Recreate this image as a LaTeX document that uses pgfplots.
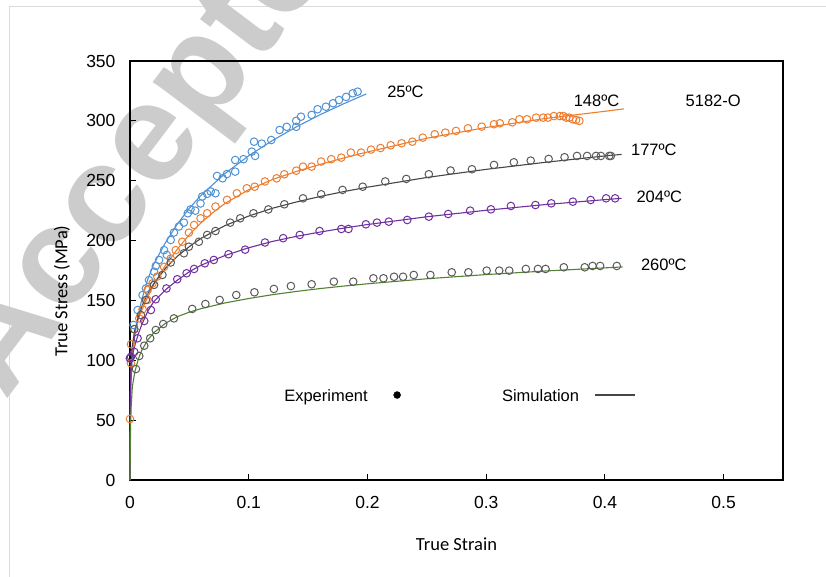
\documentclass[border=0pt]{standalone}
\usepackage{pgfplots}
\pgfplotsset{compat=1.18}
\usepackage{fontspec}
\setmainfont{Liberation Sans}
\newfontfamily\carlito{Carlito}

\definecolor{cblue}{RGB}{79,145,210}
\definecolor{corange}{RGB}{237,125,49}
\definecolor{cgray}{RGB}{90,90,90}
\definecolor{cdark}{RGB}{70,70,70}
\definecolor{cpurple}{RGB}{112,48,160}
\definecolor{cgreen}{RGB}{84,130,53}

\newcommand{\lbl}{\fontsize{16.5}{19}\selectfont}
\newcommand{\tck}{\fontsize{17.5}{20}\selectfont}

\begin{document}
\begin{tikzpicture}
\useasboundingbox (-130pt,-96pt) rectangle (696pt,480pt);
\clip (-130pt,-96pt) rectangle (696pt,480pt);
% page frame and watermark
\draw[black!14, line width=1pt] (-120pt,-100pt) -- (-120pt,473pt) -- (700pt,473pt);
\node[rotate=53, text=black!20, font=\fontsize{140}{140}\selectfont\bfseries]
  at (36pt,352pt) {Accepted};

\begin{axis}[
    at={(0,0)}, anchor=south west,
    scale only axis, width=653pt, height=419pt,
    xmin=0, xmax=0.55, ymin=0, ymax=350,
    xtick={0,0.1,0.2,0.3,0.4,0.5},
    ytick={0,50,100,150,200,250,300,350},
    xtick pos=bottom, ytick pos=left,
    tick align=inside, major tick length=6pt,
    tick style={black, line width=1pt},
    axis line style={black, line width=1.6pt},
    tick label style={font=\tck},
    /pgf/number format/assume math mode=true,
    xticklabel style={yshift=-13pt},
    yticklabel style={xshift=-11pt},
    clip=false,
    mark size=3.8pt,
  ]

% experiment, 25 C
\addplot[only marks, mark=o, cblue, line width=1pt] coordinates {
(0.003,129.5) (0.0064,142) (0.0106,154.5) (0.0134,160) (0.016,167)
(0.0203,174) (0.0217,178.8) (0.0245,183.8) (0.0287,192) (0.031,188)
(0.0343,200.5) (0.037,206.7) (0.0412,211.7) (0.0454,215) (0.0487,222.8)
(0.051,226) (0.055,225) (0.0594,231) (0.0608,236.8) (0.065,239)
(0.068,241) (0.072,239.5) (0.0733,254) (0.078,252) (0.0817,255.6)
(0.0886,257.6) (0.0886,267.3) (0.0956,268) (0.1026,274.3) (0.1045,282.6)
(0.1054,270.7) (0.111,281) (0.119,284) (0.126,292.4) (0.132,295)
(0.140,295) (0.140,300) (0.144,303.5) (0.153,305) (0.158,309.7)
(0.165,311.8) (0.171,314.7) (0.176,317.4) (0.182,320) (0.1876,323)
(0.1917,324.4)
};
% experiment, 148 C
\addplot[only marks, mark=o, corange, line width=1pt] coordinates {
(0,51) (0.0008,97.5) (0.0008,113.4) (0.0036,126) (0.0078,135)
(0.0106,142.6) (0.0148,150.4) (0.0148,158.7) (0.019,164.3) (0.023,170)
(0.0287,178) (0.0343,185) (0.0385,192) (0.044,199) (0.0496,206.6)
(0.054,213) (0.0594,218.6) (0.065,222.8) (0.072,228.4) (0.0817,234)
(0.09,239.5) (0.0984,243.7) (0.105,245) (0.1137,249.4) (0.1235,252)
(0.130,255.4) (0.140,258.4) (0.1457,261.8) (0.153,261.8) (0.161,266)
(0.1695,268) (0.178,269.3) (0.186,273.5) (0.1946,273.5) (0.203,276)
(0.211,277.3) (0.2196,279.6) (0.2288,281.3) (0.2378,282.6) (0.2466,286)
(0.2567,288.8) (0.2656,290.2) (0.2746,291.6) (0.2846,293.8) (0.2962,295.2)
(0.3066,297.2) (0.3115,298) (0.322,298.8) (0.328,301.3) (0.3344,301.3)
(0.342,302.7) (0.348,302.7) (0.352,302.7) (0.357,304) (0.362,304)
(0.365,304) (0.3674,302.7) (0.370,302.7) (0.373,301.3) (0.3757,300.7)
(0.3785,300)
};
% experiment, 177 C
\addplot[only marks, mark=o, cgray, line width=1pt] coordinates {
(0,101.6) (0.0036,126) (0.0092,137.8) (0.0134,150.4) (0.0203,163)
(0.0273,171.3) (0.0343,181.7) (0.0454,189.4) (0.0496,194.9) (0.058,199)
(0.065,204.7) (0.072,208) (0.0844,215) (0.0928,218.6) (0.104,222.8)
(0.1165,226) (0.130,230.3) (0.1457,235.3) (0.161,238.7) (0.179,242.3)
(0.196,245) (0.215,249.4) (0.2327,251.5) (0.2517,255.4) (0.27,258.5)
(0.288,259.6) (0.3066,263.2) (0.3233,265.4) (0.3375,266.8) (0.3526,268.2)
(0.366,269.6) (0.3765,270.7) (0.385,270.7) (0.3925,270.7) (0.3966,270.7)
(0.4036,270.7) (0.405,270.7)
};
% experiment, 204 C
\addplot[only marks, mark=o, cpurple, line width=1pt] coordinates {
(0,101.6) (0.0008,103) (0.0036,107) (0.0064,118.4) (0.012,132.8)
(0.0176,142) (0.0217,151) (0.0307,160) (0.0398,167.7) (0.0477,172.7)
(0.054,176.3) (0.063,181) (0.0706,183.8) (0.083,188.6) (0.097,192.4)
(0.1137,198.4) (0.129,202) (0.143,204.7) (0.1597,208) (0.178,209.7)
(0.184,209.7) (0.1987,213.6) (0.208,215) (0.218,215.8) (0.2335,217.2)
(0.2517,220) (0.268,222.2) (0.2865,225) (0.304,226.1) (0.3208,228.9)
(0.3415,229.7) (0.3548,231.1) (0.373,232.5) (0.388,233.9) (0.401,235.3)
(0.4086,235.3)
};
% experiment, 260 C
\addplot[only marks, mark=o, cgray, line width=1pt] coordinates {
(0.005,92.7) (0.0078,103.6) (0.012,112.2) (0.017,118.4) (0.0217,125.3)
(0.028,130.3) (0.037,135) (0.0524,142.9) (0.0635,147) (0.0755,150.4)
(0.0895,154.5) (0.1048,156.8) (0.1212,159.6) (0.1355,162) (0.153,163.5)
(0.1717,165.7) (0.188,165.7) (0.205,168.5) (0.2135,168.5) (0.2224,169.8)
(0.23,169.8) (0.239,171.3) (0.253,171.3) (0.271,173.5) (0.285,173.5)
(0.3004,174.9) (0.311,174.9) (0.3194,174.9) (0.3334,176.3) (0.3436,176.3)
(0.35,176.3) (0.3654,177.7) (0.383,177.7) (0.3896,178.8) (0.396,178.8)
(0.41,178.8)
};

% simulation lines
\addplot[cblue, line width=1.1pt] coordinates {
(0,0) (0.0005,70) (0.001,85) (0.002,101) (0.004,120) (0.007,138)
(0.01,151) (0.015,167.6) (0.02,180.3) (0.03,198.5) (0.04,214) (0.05,227)
(0.06,238) (0.08,256) (0.1,270.8) (0.12,283.6) (0.14,294.9) (0.16,305.1)
(0.18,314.3) (0.199,322.5)
};
\addplot[corange, line width=1.1pt] coordinates {
(0,0) (0.0005,80) (0.001,96) (0.002,112) (0.004,125) (0.007,134.5)
(0.01,142) (0.015,153) (0.02,163.5) (0.03,179.5) (0.04,193) (0.05,205)
(0.06,215) (0.07,223.5) (0.08,231) (0.1,242.5) (0.12,251) (0.14,257.7)
(0.16,263.6) (0.18,269) (0.2,274) (0.25,285.5) (0.3,294.5) (0.35,302)
(0.4,308) (0.416,310)
};
\addplot[cdark, line width=1.1pt] coordinates {
(0,0) (0.0005,80) (0.001,100) (0.002,112) (0.004,125) (0.007,136)
(0.01,145) (0.015,156) (0.02,164) (0.03,177) (0.04,187) (0.05,195)
(0.06,202) (0.08,212.5) (0.1,220.5) (0.12,227) (0.14,232.2) (0.16,236.8)
(0.18,240.9) (0.2,244.6) (0.25,252.7) (0.3,259.5) (0.35,265.4) (0.4,270.7)
(0.414,272)
};
\addplot[cpurple, line width=1.1pt] coordinates {
(0,0) (0.0005,80) (0.001,98) (0.002,104) (0.004,112) (0.007,122)
(0.01,130) (0.015,141) (0.02,149) (0.03,159) (0.04,167) (0.05,174)
(0.06,179.5) (0.08,187.5) (0.1,194) (0.12,199.3) (0.14,203.5) (0.16,207.1)
(0.18,210.4) (0.2,213.4) (0.25,219.9) (0.3,225.3) (0.35,230.1) (0.4,234.2)
(0.414,235.3)
};
\addplot[cgreen, line width=1.1pt] coordinates {
(0,0) (0.0005,45) (0.001,62) (0.002,78) (0.004,90) (0.007,101)
(0.01,108.5) (0.015,117) (0.02,123) (0.03,131) (0.04,136.5) (0.05,140.2)
(0.06,143.2) (0.08,147.9) (0.1,151.6) (0.12,154.8) (0.14,157.5) (0.16,159.9)
(0.18,162) (0.2,163.9) (0.25,168.1) (0.3,171.6) (0.35,174.6) (0.4,177.2)
(0.415,178)
};

% legend
\addplot[only marks, mark=*, black, mark size=3.5pt] coordinates {(0.225,71)};
\addplot[cdark, line width=1.5pt] coordinates {(0.3916,71) (0.4252,71)};

\node[anchor=base, font=\lbl] at (axis cs:0.1651,65.2) {Experiment};
\node[anchor=base, font=\lbl] at (axis cs:0.3458,65.2) {Simulation};
\node[anchor=base, font=\lbl] at (axis cs:0.232,319.1) {25ºC};
\node[anchor=base, font=\lbl] at (axis cs:0.3929,311.6) {148ºC};
\node[anchor=base, font=\lbl] at (axis cs:0.4912,312.4) {5182-O};
\node[anchor=base, font=\lbl] at (axis cs:0.4412,270.7) {177ºC};
\node[anchor=base, font=\lbl] at (axis cs:0.4458,232.2) {204ºC};
\node[anchor=base, font=\lbl] at (axis cs:0.4496,175.4) {260ºC};

% axis titles
\node[yshift=-64pt, font=\carlito\fontsize{18.5}{21}\selectfont] at (axis description cs:0.5,0) {True Strain};
\node[xshift=-68pt, rotate=90, font=\carlito\fontsize{18.5}{21}\selectfont] at (axis description cs:0,0.451) {True Stress (MPa)};
\end{axis}
\end{tikzpicture}
\end{document}
